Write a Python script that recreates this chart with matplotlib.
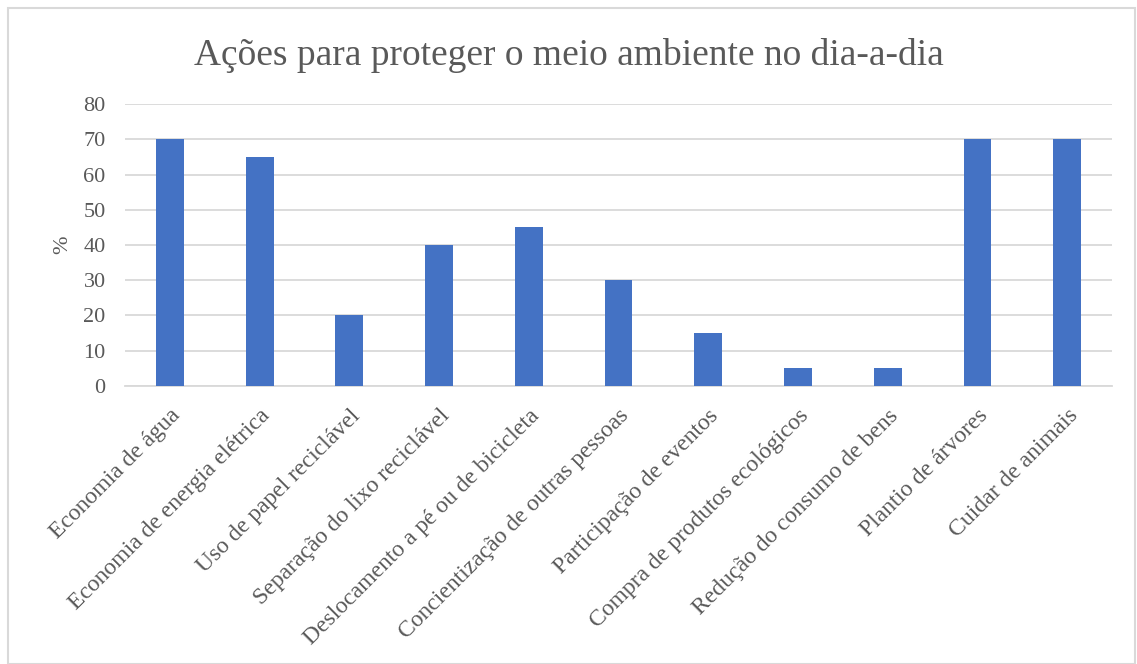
import numpy as np
import matplotlib.pyplot as plt
from matplotlib.patches import Rectangle

categorias = ['Economia de água', 'Economia de energia elétrica', 'Uso de papel reciclável',
              'Separação do lixo reciclável', 'Deslocamento a pé ou de bicicleta',
              'Concientização de outras pessoas', 'Participação de eventos',
              'Compra de produtos ecológicos', 'Redução do consumo de bens',
              'Plantio de árvores', 'Cuidar de animais']
valores = [70, 65, 20, 40, 45, 30, 15, 5, 5, 70, 70]
yticks = [0, 10, 20, 30, 40, 50, 60, 70, 80]

cinza = '#595959'
plt.rcParams['font.family'] = ['Liberation Serif', 'DejaVu Serif']

fig = plt.figure(figsize=(11.37, 6.64), dpi=100)
ax = fig.add_axes([0.110, 0.419, 0.868, 0.424])

x = np.arange(len(categorias))
ax.bar(x, valores, width=0.31, color='#4472C4', zorder=3)

ax.set_xlim(-0.5, len(categorias) - 0.5)
ax.set_ylim(0, 80)
ax.set_yticks(yticks)
ax.set_yticklabels([str(v) for v in yticks], fontsize=16, color=cinza)
ax.set_xticks(x)
ax.set_xticklabels(categorias, rotation=45, ha='right', rotation_mode='anchor',
                   fontsize=17, color=cinza)
ax.tick_params(axis='both', length=0)
ax.tick_params(axis='x', pad=14)
ax.tick_params(axis='y', pad=14)

ax.grid(axis='y', color='#D9D9D9', linewidth=1.3, zorder=0)
for s in ['top', 'right', 'left']:
    ax.spines[s].set_visible(False)
ax.spines['bottom'].set_color('#D9D9D9')
ax.spines['bottom'].set_linewidth(1.3)

ax.set_ylabel('%', fontsize=16, color=cinza, labelpad=8)
fig.text(0.5, 0.917, 'Ações para proteger o meio ambiente no dia-a-dia',
         ha='center', va='center', fontsize=27, color=cinza)

# moldura do gráfico
fig.patches.append(Rectangle((8 / 1137, 0), 1 - 10 / 1137, 1 - 8 / 664,
                             transform=fig.transFigure, fill=False,
                             edgecolor='#D9D9D9', linewidth=1.5))

fig.savefig('out.png', dpi=100)
